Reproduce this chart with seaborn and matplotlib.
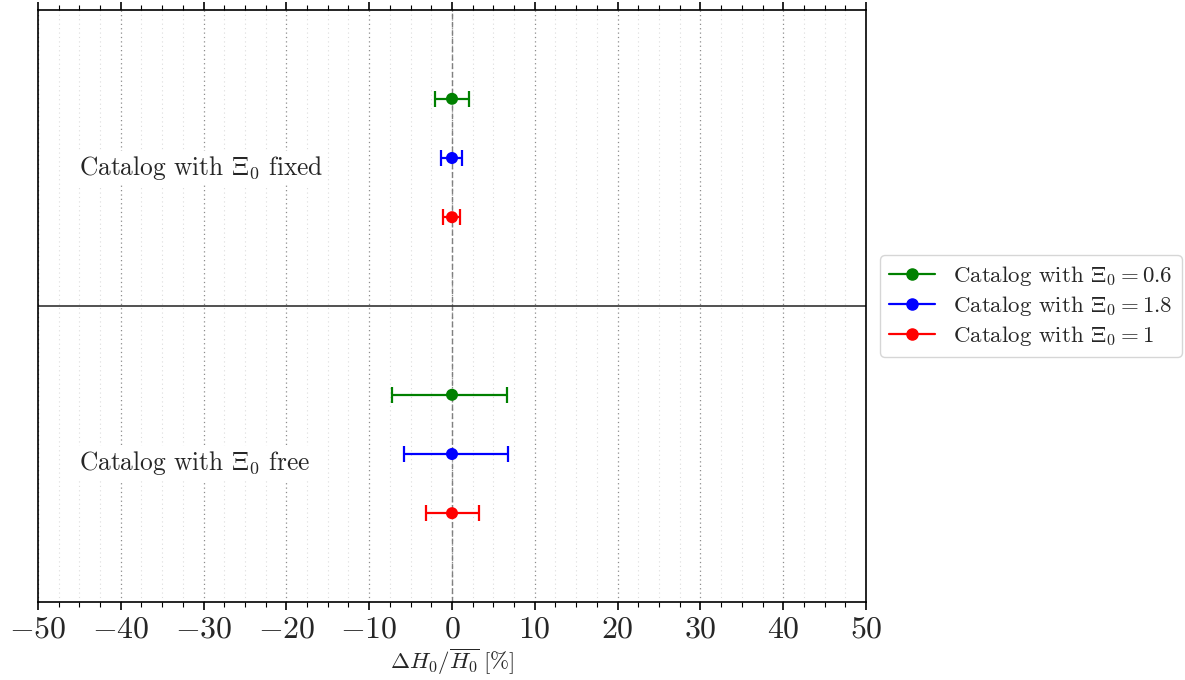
import numpy as np
import pandas as pd
import matplotlib
matplotlib.use("Agg")
import matplotlib.pyplot as plt
from matplotlib.lines import Line2D
from matplotlib.ticker import MultipleLocator
import seaborn as sns

# ---- data ----
labels = [r"Catalog with $\Xi_0=0.6$", r"Catalog with $\Xi_0=1.8$", r"Catalog with $\Xi_0=1$"]
colors = ["green", "blue", "red"]
# fixed case
fixed_center = [0.0, 0.0, 0.0]
fixed_lo = [2.05, 1.3, 1.1]
fixed_hi = [2.0, 1.2, 1.0]
fixed_y = [1.5, 2.5, 3.5]
# free case
free_center = [0.0, 0.0, 0.0]
free_lo = [7.25, 5.75, 3.2]
free_hi = [6.7, 6.8, 3.3]
free_y = [6.5, 7.5, 8.5]
group_titles = [r"Catalog with $\Xi_0$ fixed", r"Catalog with $\Xi_0$ free"]
group_title_y = [2.67, 7.65]
divider_y = 5.0
xticks = [-50, -40, -30, -20, -10, 0, 10, 20, 30, 40, 50]

sns.set_style("white")
plt.rcParams["font.family"] = ["serif"]
plt.rcParams["font.serif"] = ["cmr10", "DejaVu Serif"]
plt.rcParams["mathtext.fontset"] = "cm"
plt.rcParams["axes.formatter.use_mathtext"] = True

df = pd.DataFrame({
    "x": fixed_center + free_center,
    "y": fixed_y + free_y,
    "cat": labels + labels,
})

fig = plt.figure(figsize=(11.85, 6.8), dpi=100)
ax = fig.add_axes([38/1185, 1-602/680, (866-38)/1185, (602-10)/680])

ax.set_xlim(-50, 50)
ax.set_ylim(10, 0)

ax.xaxis.set_major_locator(MultipleLocator(10))
ax.xaxis.set_minor_locator(MultipleLocator(2.5))
ax.grid(True, which="major", axis="x", linestyle=(0, (1, 2.5)), color="#8c8c8c", lw=0.9)
ax.grid(True, which="minor", axis="x", linestyle=(0, (1, 3)), color="#dcdcdc", lw=0.8)
ax.set_axisbelow(True)

ax.axvline(0, color="#808080", ls=(0, (4, 2)), lw=1.0, zorder=1)
ax.axhline(divider_y, color="#333333", lw=1.2, zorder=1)

for i in range(3):
    ax.errorbar([fixed_center[i]], [fixed_y[i]], xerr=[[fixed_lo[i]], [fixed_hi[i]]],
                fmt="none", ecolor=colors[i], elinewidth=1.6, capsize=6, capthick=1.6, zorder=3)
    ax.errorbar([free_center[i]], [free_y[i]], xerr=[[free_lo[i]], [free_hi[i]]],
                fmt="none", ecolor=colors[i], elinewidth=1.6, capsize=6, capthick=1.6, zorder=3)

sns.scatterplot(data=df, x="x", y="y", hue="cat", palette=colors, s=75,
                edgecolor="none", legend=False, ax=ax, zorder=4)

for t, yy in zip(group_titles, group_title_y):
    ax.text(-45, yy, t, fontsize=18.3, va="center", ha="left",
            bbox=dict(facecolor="white", edgecolor="none", pad=2))

ax.set_xticks(xticks)
ax.set_xticklabels([rf"${v}$" if v >= 0 else rf"$-{abs(v)}$" for v in xticks], fontsize=23)
ax.set_yticks([])
ax.set_xlabel(r"$\Delta H_0/\overline{H_0}\;[\%]$", fontsize=16.5, labelpad=2)
ax.set_ylabel("")
ax.tick_params(axis="x", which="both", top=True, bottom=True, direction="out", color="black")
ax.tick_params(axis="x", which="major", length=6, width=1.2, pad=4)
ax.tick_params(axis="x", which="minor", length=3.5, width=0.8)
for s in ax.spines.values():
    s.set_color("black")
    s.set_linewidth(1.2)

handles = [Line2D([0], [0], color=c, lw=1.6, marker="o", markersize=8) for c in colors]
leg = ax.legend(handles, labels, loc="center left", bbox_to_anchor=(1.003, 0.5),
                fontsize=16.5, frameon=True, fancybox=True, edgecolor="#cccccc",
                handlelength=2.0, handletextpad=0.8, borderpad=0.4, labelspacing=0.25)

fig.savefig("out.png", dpi=100)
